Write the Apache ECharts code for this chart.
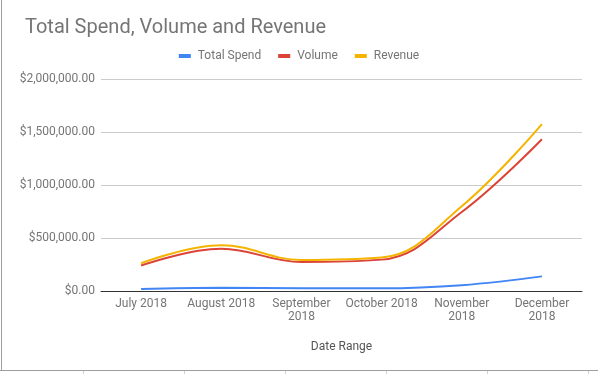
<!DOCTYPE html>
<html>
<head>
<meta charset="utf-8">
<script src="https://cdn.jsdelivr.net/npm/echarts@6/dist/echarts.min.js"></script>
<style>
html,body{margin:0;padding:0;background:#fff;}
#chart{width:598px;height:374px;}
</style>
</head>
<body>
<div id="chart"></div>
<script>
const categories = ['July 2018', 'August 2018', 'September\n2018', 'October 2018', 'November\n2018', 'December\n2018'];
const totalSpend = [20000, 31000, 26000, 26000, 55000, 138000];
const volume = [240000, 398000, 274000, 296000, 745000, 1431000];
const revenue = [262000, 432000, 293000, 316000, 800000, 1575000];
const yTicks = [0, 500000, 1000000, 1500000, 2000000];

const chart = echarts.init(document.getElementById('chart'), null, {renderer: 'canvas'});
const fmt = v => '$' + v.toLocaleString('en-US', {minimumFractionDigits: 2, maximumFractionDigits: 2});
const font = 'Roboto, "Noto Sans", sans-serif';

function mkSeries(name, data, color) {
  return {
    name: name, type: 'line', data: data, smooth: 0.4, showSymbol: false, symbol: 'none',
    lineStyle: {width: 2, color: color}, itemStyle: {color: color}
  };
}

chart.setOption({
  animation: false,
  textStyle: {fontFamily: font},
  title: {
    text: 'Total Spend, Volume and Revenue', left: 20, top: 13,
    textStyle: {fontSize: 20, fontWeight: 'normal', color: '#757575', fontFamily: font}
  },
  legend: {
    left: 'center', top: 45, itemWidth: 12, itemHeight: 4, itemGap: 17,
    icon: 'rect',
    textStyle: {fontSize: 12, color: '#757575', fontFamily: font, padding: [0, 0, 0, 2]},
    data: ['Total Spend', 'Volume', 'Revenue']
  },
  grid: {left: 101, right: 16, top: 79, bottom: 83, containLabel: false},
  xAxis: {
    type: 'category', data: categories, boundaryGap: true,
    name: 'Date Range', nameLocation: 'middle', nameGap: 50,
    nameTextStyle: {fontSize: 12, color: '#555', fontFamily: font},
    axisLine: {lineStyle: {color: '#333', width: 1}},
    axisTick: {show: false},
    axisLabel: {fontSize: 12, color: '#757575', lineHeight: 13, margin: 6, interval: 0, fontFamily: font}
  },
  yAxis: {
    type: 'value', min: yTicks[0], max: yTicks[yTicks.length - 1], interval: yTicks[1] - yTicks[0],
    axisLine: {show: false}, axisTick: {show: false},
    axisLabel: {formatter: v => fmt(v), fontSize: 12, color: '#757575', margin: 6, fontFamily: font},
    splitLine: {lineStyle: {color: '#cccccc', width: 1}}
  },
  series: [
    mkSeries('Total Spend', totalSpend, '#4285F4'),
    mkSeries('Volume', volume, '#DB4437'),
    mkSeries('Revenue', revenue, '#F4B400')
  ],
  graphic: [
    {type: 'line', shape: {x1: 1.5, y1: 0, x2: 1.5, y2: 370}, style: {stroke: '#9e9e9e', lineWidth: 1}},
    {type: 'line', shape: {x1: 0, y1: 370.5, x2: 598, y2: 370.5}, style: {stroke: '#9e9e9e', lineWidth: 1}},
    {type: 'line', shape: {x1: 83.5, y1: 371, x2: 83.5, y2: 374}, style: {stroke: '#d0d0d0', lineWidth: 1}},
    {type: 'line', shape: {x1: 184.5, y1: 371, x2: 184.5, y2: 374}, style: {stroke: '#d0d0d0', lineWidth: 1}},
    {type: 'line', shape: {x1: 285.5, y1: 371, x2: 285.5, y2: 374}, style: {stroke: '#d0d0d0', lineWidth: 1}},
    {type: 'line', shape: {x1: 386.5, y1: 371, x2: 386.5, y2: 374}, style: {stroke: '#d0d0d0', lineWidth: 1}},
    {type: 'line', shape: {x1: 487.5, y1: 371, x2: 487.5, y2: 374}, style: {stroke: '#d0d0d0', lineWidth: 1}},
    {type: 'line', shape: {x1: 588.5, y1: 371, x2: 588.5, y2: 374}, style: {stroke: '#d0d0d0', lineWidth: 1}}
  ]
});
</script>
</body>
</html>
